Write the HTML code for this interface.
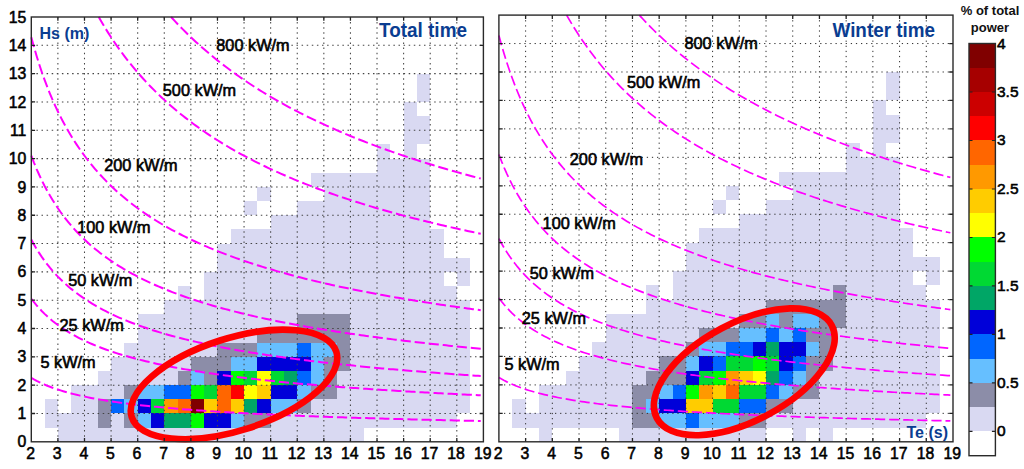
<!DOCTYPE html>
<html><head><meta charset="utf-8"><title>Wave power scatter diagrams</title>
<style>
html,body{margin:0;padding:0;background:#fff;}
body{width:1024px;height:469px;overflow:hidden;font-family:"Liberation Sans",sans-serif;}
svg{display:block;font-family:"Liberation Sans",sans-serif;}
.tk text{font-size:15.8px;fill:#000;stroke:#000;stroke-width:0.55px;}
.cbl text{font-size:15.5px;}
.lb text{font-size:16.3px;fill:#000;stroke:#000;stroke-width:0.6px;}
.bl{font-weight:bold;fill:#0a3d91;}
.ttl text{font-size:13px;font-weight:bold;fill:#111;}
</style></head><body>
<svg width="1024" height="469" viewBox="0 0 1024 469">
<rect width="1024" height="469" fill="#fff"/>
<g shape-rendering="crispEdges">
<rect x="57.89" y="427.64" width="305.83" height="14.16" fill="#d9d9f2"/>
<rect x="44.6" y="413.48" width="53.19" height="14.16" fill="#d9d9f2"/>
<rect x="97.79" y="413.48" width="13.3" height="14.16" fill="#8c8da8"/>
<rect x="111.08" y="413.48" width="13.3" height="14.16" fill="#d9d9f2"/>
<rect x="124.38" y="413.48" width="13.3" height="14.16" fill="#8c8da8"/>
<rect x="137.68" y="413.48" width="13.3" height="14.16" fill="#66bfff"/>
<rect x="150.97" y="413.48" width="13.3" height="14.16" fill="#0000d9"/>
<rect x="164.27" y="413.48" width="26.59" height="14.16" fill="#00a666"/>
<rect x="190.86" y="413.48" width="13.3" height="14.16" fill="#00ff00"/>
<rect x="204.16" y="413.48" width="26.59" height="14.16" fill="#0000d9"/>
<rect x="230.76" y="413.48" width="13.3" height="14.16" fill="#66bfff"/>
<rect x="244.05" y="413.48" width="26.59" height="14.16" fill="#8c8da8"/>
<rect x="270.65" y="413.48" width="186.16" height="14.16" fill="#d9d9f2"/>
<rect x="44.6" y="399.32" width="13.3" height="14.16" fill="#d9d9f2"/>
<rect x="71.19" y="399.32" width="26.59" height="14.16" fill="#d9d9f2"/>
<rect x="97.79" y="399.32" width="13.3" height="14.16" fill="#8c8da8"/>
<rect x="111.08" y="399.32" width="13.3" height="14.16" fill="#0066ff"/>
<rect x="124.38" y="399.32" width="13.3" height="14.16" fill="#66bfff"/>
<rect x="137.68" y="399.32" width="13.3" height="14.16" fill="#0000d9"/>
<rect x="150.97" y="399.32" width="13.3" height="14.16" fill="#00d933"/>
<rect x="164.27" y="399.32" width="13.3" height="14.16" fill="#ff9900"/>
<rect x="177.57" y="399.32" width="13.3" height="14.16" fill="#ff6600"/>
<rect x="190.86" y="399.32" width="13.3" height="14.16" fill="#800000"/>
<rect x="204.16" y="399.32" width="13.3" height="14.16" fill="#ffcc00"/>
<rect x="217.46" y="399.32" width="13.3" height="14.16" fill="#ff6600"/>
<rect x="230.76" y="399.32" width="13.3" height="14.16" fill="#ffcc00"/>
<rect x="244.05" y="399.32" width="13.3" height="14.16" fill="#00a666"/>
<rect x="257.35" y="399.32" width="13.3" height="14.16" fill="#0000d9"/>
<rect x="270.65" y="399.32" width="26.59" height="14.16" fill="#66bfff"/>
<rect x="297.24" y="399.32" width="13.3" height="14.16" fill="#8c8da8"/>
<rect x="310.54" y="399.32" width="159.56" height="14.16" fill="#d9d9f2"/>
<rect x="71.19" y="385.16" width="53.19" height="14.16" fill="#d9d9f2"/>
<rect x="124.38" y="385.16" width="13.3" height="14.16" fill="#8c8da8"/>
<rect x="137.68" y="385.16" width="26.59" height="14.16" fill="#66bfff"/>
<rect x="164.27" y="385.16" width="26.59" height="14.16" fill="#0066ff"/>
<rect x="190.86" y="385.16" width="13.3" height="14.16" fill="#00ff00"/>
<rect x="204.16" y="385.16" width="13.3" height="14.16" fill="#00d933"/>
<rect x="217.46" y="385.16" width="13.3" height="14.16" fill="#ff6600"/>
<rect x="230.76" y="385.16" width="13.3" height="14.16" fill="#ff0000"/>
<rect x="244.05" y="385.16" width="13.3" height="14.16" fill="#ffff00"/>
<rect x="257.35" y="385.16" width="13.3" height="14.16" fill="#ffcc00"/>
<rect x="270.65" y="385.16" width="26.59" height="14.16" fill="#0000d9"/>
<rect x="297.24" y="385.16" width="13.3" height="14.16" fill="#66bfff"/>
<rect x="310.54" y="385.16" width="26.59" height="14.16" fill="#8c8da8"/>
<rect x="337.13" y="385.16" width="132.97" height="14.16" fill="#d9d9f2"/>
<rect x="97.79" y="371" width="79.78" height="14.16" fill="#d9d9f2"/>
<rect x="177.57" y="371" width="13.3" height="14.16" fill="#8c8da8"/>
<rect x="190.86" y="371" width="13.3" height="14.16" fill="#66bfff"/>
<rect x="204.16" y="371" width="13.3" height="14.16" fill="#8c8da8"/>
<rect x="217.46" y="371" width="13.3" height="14.16" fill="#0000d9"/>
<rect x="230.76" y="371" width="13.3" height="14.16" fill="#00ff00"/>
<rect x="244.05" y="371" width="13.3" height="14.16" fill="#00d933"/>
<rect x="257.35" y="371" width="13.3" height="14.16" fill="#ffff00"/>
<rect x="270.65" y="371" width="13.3" height="14.16" fill="#00d933"/>
<rect x="283.94" y="371" width="13.3" height="14.16" fill="#00a666"/>
<rect x="297.24" y="371" width="13.3" height="14.16" fill="#0066ff"/>
<rect x="310.54" y="371" width="13.3" height="14.16" fill="#66bfff"/>
<rect x="323.84" y="371" width="13.3" height="14.16" fill="#8c8da8"/>
<rect x="337.13" y="371" width="132.97" height="14.16" fill="#d9d9f2"/>
<rect x="111.08" y="356.84" width="79.78" height="14.16" fill="#d9d9f2"/>
<rect x="190.86" y="356.84" width="39.89" height="14.16" fill="#8c8da8"/>
<rect x="230.76" y="356.84" width="26.59" height="14.16" fill="#66bfff"/>
<rect x="257.35" y="356.84" width="53.19" height="14.16" fill="#0000d9"/>
<rect x="310.54" y="356.84" width="13.3" height="14.16" fill="#66bfff"/>
<rect x="323.84" y="356.84" width="26.59" height="14.16" fill="#8c8da8"/>
<rect x="350.43" y="356.84" width="119.67" height="14.16" fill="#d9d9f2"/>
<rect x="124.38" y="342.68" width="93.08" height="14.16" fill="#d9d9f2"/>
<rect x="217.46" y="342.68" width="39.89" height="14.16" fill="#8c8da8"/>
<rect x="257.35" y="342.68" width="39.89" height="14.16" fill="#66bfff"/>
<rect x="297.24" y="342.68" width="13.3" height="14.16" fill="#0066ff"/>
<rect x="310.54" y="342.68" width="26.59" height="14.16" fill="#66bfff"/>
<rect x="337.13" y="342.68" width="13.3" height="14.16" fill="#8c8da8"/>
<rect x="350.43" y="342.68" width="119.67" height="14.16" fill="#d9d9f2"/>
<rect x="137.68" y="328.52" width="119.67" height="14.16" fill="#d9d9f2"/>
<rect x="257.35" y="328.52" width="93.08" height="14.16" fill="#8c8da8"/>
<rect x="350.43" y="328.52" width="119.67" height="14.16" fill="#d9d9f2"/>
<rect x="137.68" y="314.36" width="159.56" height="14.16" fill="#d9d9f2"/>
<rect x="297.24" y="314.36" width="53.19" height="14.16" fill="#8c8da8"/>
<rect x="350.43" y="314.36" width="119.67" height="14.16" fill="#d9d9f2"/>
<rect x="164.27" y="300.2" width="305.83" height="14.16" fill="#d9d9f2"/>
<rect x="177.57" y="286.04" width="13.3" height="14.16" fill="#d9d9f2"/>
<rect x="204.16" y="286.04" width="252.64" height="14.16" fill="#d9d9f2"/>
<rect x="204.16" y="271.88" width="239.35" height="14.16" fill="#d9d9f2"/>
<rect x="456.81" y="271.88" width="13.3" height="14.16" fill="#d9d9f2"/>
<rect x="217.46" y="257.72" width="252.64" height="14.16" fill="#d9d9f2"/>
<rect x="217.46" y="243.56" width="226.05" height="14.16" fill="#d9d9f2"/>
<rect x="230.76" y="229.4" width="212.75" height="14.16" fill="#d9d9f2"/>
<rect x="270.65" y="215.24" width="159.56" height="14.16" fill="#d9d9f2"/>
<rect x="244.05" y="201.08" width="13.3" height="14.16" fill="#d9d9f2"/>
<rect x="297.24" y="201.08" width="132.97" height="14.16" fill="#d9d9f2"/>
<rect x="257.35" y="186.92" width="13.3" height="14.16" fill="#d9d9f2"/>
<rect x="323.84" y="186.92" width="106.38" height="14.16" fill="#d9d9f2"/>
<rect x="310.54" y="172.76" width="119.67" height="14.16" fill="#d9d9f2"/>
<rect x="377.02" y="158.6" width="53.19" height="14.16" fill="#d9d9f2"/>
<rect x="377.02" y="144.44" width="13.3" height="14.16" fill="#d9d9f2"/>
<rect x="403.62" y="144.44" width="13.3" height="14.16" fill="#d9d9f2"/>
<rect x="403.62" y="130.28" width="26.59" height="14.16" fill="#d9d9f2"/>
<rect x="403.62" y="116.12" width="26.59" height="14.16" fill="#d9d9f2"/>
<rect x="403.62" y="101.96" width="13.3" height="14.16" fill="#d9d9f2"/>
<rect x="416.91" y="87.8" width="13.3" height="14.16" fill="#d9d9f2"/>
<rect x="416.91" y="73.64" width="13.3" height="14.16" fill="#d9d9f2"/>
</g>
<path d="M57.89 17V441.8M84.49 17V441.8M111.08 17V441.8M137.68 17V441.8M164.27 17V441.8M190.86 17V441.8M217.46 17V441.8M244.05 17V441.8M270.65 17V441.8M297.24 17V441.8M323.84 17V441.8M350.43 17V441.8M377.02 17V441.8M403.62 17V441.8M430.21 17V441.8M456.81 17V441.8M31.3 413.48H483.4M31.3 385.16H483.4M31.3 356.84H483.4M31.3 328.52H483.4M31.3 300.2H483.4M31.3 271.88H483.4M31.3 243.56H483.4M31.3 215.24H483.4M31.3 186.92H483.4M31.3 158.6H483.4M31.3 130.28H483.4M31.3 101.96H483.4M31.3 73.64H483.4M31.3 45.32H483.4" stroke="#444" stroke-width="1.05" stroke-dasharray="1.5 3.6" fill="none"/>
<path d="M31.3 377.83 L33.96 379.37 L36.62 380.81 L39.28 382.15 L41.94 383.41 L44.6 384.58 L47.26 385.7 L49.92 386.74 L52.58 387.74 L55.23 388.68 L57.89 389.57 L60.55 390.42 L63.21 391.23 L65.87 392 L68.53 392.74 L71.19 393.44 L73.85 394.12 L76.51 394.77 L79.17 395.39 L81.83 395.99 L84.49 396.57 L87.15 397.12 L89.81 397.66 L92.47 398.17 L95.13 398.67 L97.79 399.15 L100.44 399.62 L103.1 400.07 L105.76 400.51 L108.42 400.93 L111.08 401.34 L113.74 401.74 L116.4 402.13 L119.06 402.5 L121.72 402.87 L124.38 403.23 L127.04 403.57 L129.7 403.91 L132.36 404.24 L135.02 404.56 L137.68 404.87 L140.34 405.17 L143 405.47 L145.65 405.76 L148.31 406.04 L150.97 406.32 L153.63 406.59 L156.29 406.85 L158.95 407.11 L161.61 407.36 L164.27 407.61 L166.93 407.85 L169.59 408.09 L172.25 408.32 L174.91 408.54 L177.57 408.77 L180.23 408.98 L182.89 409.2 L185.55 409.41 L188.21 409.61 L190.86 409.82 L193.52 410.01 L196.18 410.21 L198.84 410.4 L201.5 410.59 L204.16 410.77 L206.82 410.95 L209.48 411.13 L212.14 411.3 L214.8 411.48 L217.46 411.65 L220.12 411.81 L222.78 411.97 L225.44 412.14 L228.1 412.29 L230.76 412.45 L233.42 412.6 L236.07 412.75 L238.73 412.9 L241.39 413.05 L244.05 413.19 L246.71 413.33 L249.37 413.47 L252.03 413.61 L254.69 413.75 L257.35 413.88 L260.01 414.01 L262.67 414.14 L265.33 414.27 L267.99 414.4 L270.65 414.52 L273.31 414.65 L275.97 414.77 L278.63 414.89 L281.28 415.01 L283.94 415.12 L286.6 415.24 L289.26 415.35 L291.92 415.46 L294.58 415.58 L297.24 415.69 L299.9 415.79 L302.56 415.9 L305.22 416.01 L307.88 416.11 L310.54 416.21 L313.2 416.31 L315.86 416.41 L318.52 416.51 L321.18 416.61 L323.84 416.71 L326.49 416.81 L329.15 416.9 L331.81 416.99 L334.47 417.09 L337.13 417.18 L339.79 417.27 L342.45 417.36 L345.11 417.45 L347.77 417.54 L350.43 417.62 L353.09 417.71 L355.75 417.79 L358.41 417.88 L361.07 417.96 L363.73 418.04 L366.39 418.12 L369.05 418.2 L371.7 418.28 L374.36 418.36 L377.02 418.44 L379.68 418.52 L382.34 418.6 L385 418.67 L387.66 418.75 L390.32 418.82 L392.98 418.9 L395.64 418.97 L398.3 419.04 L400.96 419.11 L403.62 419.18 L406.28 419.25 L408.94 419.32 L411.6 419.39 L414.26 419.46 L416.91 419.53 L419.57 419.6 L422.23 419.66 L424.89 419.73 L427.55 419.79 L430.21 419.86 L432.87 419.92 L435.53 419.99 L438.19 420.05 L440.85 420.11 L443.51 420.17 L446.17 420.24 L448.83 420.3 L451.49 420.36 L454.15 420.42 L456.81 420.48 L459.47 420.54 L462.12 420.59 L464.78 420.65 L467.44 420.71 L470.1 420.77 L472.76 420.82 L475.42 420.88 L478.08 420.94 L480.74 420.99" stroke="#ff00ff" stroke-width="2.0" stroke-dasharray="10.2 3.9" fill="none"/>
<path d="M31.3 298.76 L33.96 302.21 L36.62 305.42 L39.28 308.42 L41.94 311.23 L44.6 313.86 L47.26 316.35 L49.92 318.69 L52.58 320.91 L55.23 323.01 L57.89 325.01 L60.55 326.91 L63.21 328.72 L65.87 330.45 L68.53 332.1 L71.19 333.67 L73.85 335.19 L76.51 336.64 L79.17 338.03 L81.83 339.37 L84.49 340.66 L87.15 341.9 L89.81 343.09 L92.47 344.25 L95.13 345.36 L97.79 346.44 L100.44 347.48 L103.1 348.49 L105.76 349.47 L108.42 350.42 L111.08 351.34 L113.74 352.23 L116.4 353.09 L119.06 353.93 L121.72 354.75 L124.38 355.55 L127.04 356.32 L129.7 357.07 L132.36 357.81 L135.02 358.52 L137.68 359.22 L140.34 359.9 L143 360.56 L145.65 361.21 L148.31 361.84 L150.97 362.46 L153.63 363.06 L156.29 363.65 L158.95 364.23 L161.61 364.79 L164.27 365.34 L166.93 365.88 L169.59 366.41 L172.25 366.93 L174.91 367.44 L177.57 367.94 L180.23 368.42 L182.89 368.9 L185.55 369.37 L188.21 369.83 L190.86 370.28 L193.52 370.72 L196.18 371.16 L198.84 371.59 L201.5 372 L204.16 372.42 L206.82 372.82 L209.48 373.22 L212.14 373.61 L214.8 373.99 L217.46 374.37 L220.12 374.74 L222.78 375.11 L225.44 375.47 L228.1 375.82 L230.76 376.17 L233.42 376.51 L236.07 376.85 L238.73 377.18 L241.39 377.51 L244.05 377.83 L246.71 378.15 L249.37 378.46 L252.03 378.77 L254.69 379.07 L257.35 379.37 L260.01 379.67 L262.67 379.96 L265.33 380.25 L267.99 380.53 L270.65 380.81 L273.31 381.08 L275.97 381.36 L278.63 381.62 L281.28 381.89 L283.94 382.15 L286.6 382.41 L289.26 382.66 L291.92 382.91 L294.58 383.16 L297.24 383.41 L299.9 383.65 L302.56 383.89 L305.22 384.12 L307.88 384.35 L310.54 384.58 L313.2 384.81 L315.86 385.04 L318.52 385.26 L321.18 385.48 L323.84 385.7 L326.49 385.91 L329.15 386.12 L331.81 386.33 L334.47 386.54 L337.13 386.74 L339.79 386.95 L342.45 387.15 L345.11 387.35 L347.77 387.54 L350.43 387.74 L353.09 387.93 L355.75 388.12 L358.41 388.31 L361.07 388.49 L363.73 388.68 L366.39 388.86 L369.05 389.04 L371.7 389.22 L374.36 389.4 L377.02 389.57 L379.68 389.74 L382.34 389.91 L385 390.08 L387.66 390.25 L390.32 390.42 L392.98 390.58 L395.64 390.75 L398.3 390.91 L400.96 391.07 L403.62 391.23 L406.28 391.39 L408.94 391.54 L411.6 391.7 L414.26 391.85 L416.91 392 L419.57 392.15 L422.23 392.3 L424.89 392.45 L427.55 392.59 L430.21 392.74 L432.87 392.88 L435.53 393.02 L438.19 393.17 L440.85 393.31 L443.51 393.44 L446.17 393.58 L448.83 393.72 L451.49 393.85 L454.15 393.99 L456.81 394.12 L459.47 394.25 L462.12 394.38 L464.78 394.51 L467.44 394.64 L470.1 394.77 L472.76 394.9 L475.42 395.02 L478.08 395.15 L480.74 395.27" stroke="#ff00ff" stroke-width="2.0" stroke-dasharray="10.2 3.9" fill="none"/>
<path d="M31.3 239.51 L33.96 244.39 L36.62 248.93 L39.28 253.17 L41.94 257.14 L44.6 260.87 L47.26 264.38 L49.92 267.7 L52.58 270.84 L55.23 273.81 L57.89 276.63 L60.55 279.32 L63.21 281.88 L65.87 284.32 L68.53 286.65 L71.19 288.89 L73.85 291.03 L76.51 293.08 L79.17 295.05 L81.83 296.94 L84.49 298.76 L87.15 300.52 L89.81 302.21 L92.47 303.84 L95.13 305.42 L97.79 306.94 L100.44 308.42 L103.1 309.84 L105.76 311.23 L108.42 312.56 L111.08 313.86 L113.74 315.12 L116.4 316.35 L119.06 317.54 L121.72 318.69 L124.38 319.82 L127.04 320.91 L129.7 321.98 L132.36 323.01 L135.02 324.02 L137.68 325.01 L140.34 325.97 L143 326.91 L145.65 327.82 L148.31 328.72 L150.97 329.59 L153.63 330.45 L156.29 331.28 L158.95 332.1 L161.61 332.89 L164.27 333.67 L166.93 334.44 L169.59 335.19 L172.25 335.92 L174.91 336.64 L177.57 337.34 L180.23 338.03 L182.89 338.71 L185.55 339.37 L188.21 340.02 L190.86 340.66 L193.52 341.28 L196.18 341.9 L198.84 342.5 L201.5 343.09 L204.16 343.68 L206.82 344.25 L209.48 344.81 L212.14 345.36 L214.8 345.91 L217.46 346.44 L220.12 346.97 L222.78 347.48 L225.44 347.99 L228.1 348.49 L230.76 348.98 L233.42 349.47 L236.07 349.95 L238.73 350.42 L241.39 350.88 L244.05 351.34 L246.71 351.78 L249.37 352.23 L252.03 352.66 L254.69 353.09 L257.35 353.52 L260.01 353.93 L262.67 354.34 L265.33 354.75 L267.99 355.15 L270.65 355.55 L273.31 355.93 L275.97 356.32 L278.63 356.7 L281.28 357.07 L283.94 357.44 L286.6 357.81 L289.26 358.17 L291.92 358.52 L294.58 358.87 L297.24 359.22 L299.9 359.56 L302.56 359.9 L305.22 360.23 L307.88 360.56 L310.54 360.89 L313.2 361.21 L315.86 361.53 L318.52 361.84 L321.18 362.15 L323.84 362.46 L326.49 362.76 L329.15 363.06 L331.81 363.36 L334.47 363.65 L337.13 363.94 L339.79 364.23 L342.45 364.51 L345.11 364.79 L347.77 365.07 L350.43 365.34 L353.09 365.61 L355.75 365.88 L358.41 366.15 L361.07 366.41 L363.73 366.67 L366.39 366.93 L369.05 367.19 L371.7 367.44 L374.36 367.69 L377.02 367.94 L379.68 368.18 L382.34 368.42 L385 368.66 L387.66 368.9 L390.32 369.14 L392.98 369.37 L395.64 369.6 L398.3 369.83 L400.96 370.06 L403.62 370.28 L406.28 370.5 L408.94 370.72 L411.6 370.94 L414.26 371.16 L416.91 371.37 L419.57 371.59 L422.23 371.8 L424.89 372 L427.55 372.21 L430.21 372.42 L432.87 372.62 L435.53 372.82 L438.19 373.02 L440.85 373.22 L443.51 373.41 L446.17 373.61 L448.83 373.8 L451.49 373.99 L454.15 374.18 L456.81 374.37 L459.47 374.56 L462.12 374.74 L464.78 374.93 L467.44 375.11 L470.1 375.29 L472.76 375.47 L475.42 375.65 L478.08 375.82 L480.74 376" stroke="#ff00ff" stroke-width="2.0" stroke-dasharray="10.2 3.9" fill="none"/>
<path d="M31.3 155.72 L33.96 162.62 L36.62 169.04 L39.28 175.03 L41.94 180.65 L44.6 185.93 L47.26 190.9 L49.92 195.59 L52.58 200.02 L55.23 204.23 L57.89 208.22 L60.55 212.02 L63.21 215.64 L65.87 219.09 L68.53 222.39 L71.19 225.55 L73.85 228.57 L76.51 231.47 L79.17 234.26 L81.83 236.94 L84.49 239.51 L87.15 242 L89.81 244.39 L92.47 246.7 L95.13 248.93 L97.79 251.08 L100.44 253.17 L103.1 255.19 L105.76 257.14 L108.42 259.03 L111.08 260.87 L113.74 262.65 L116.4 264.38 L119.06 266.07 L121.72 267.7 L124.38 269.29 L127.04 270.84 L129.7 272.34 L132.36 273.81 L135.02 275.24 L137.68 276.63 L140.34 277.99 L143 279.32 L145.65 280.61 L148.31 281.88 L150.97 283.11 L153.63 284.32 L156.29 285.5 L158.95 286.65 L161.61 287.78 L164.27 288.89 L166.93 289.97 L169.59 291.03 L172.25 292.06 L174.91 293.08 L177.57 294.07 L180.23 295.05 L182.89 296 L185.55 296.94 L188.21 297.86 L190.86 298.76 L193.52 299.65 L196.18 300.52 L198.84 301.37 L201.5 302.21 L204.16 303.03 L206.82 303.84 L209.48 304.64 L212.14 305.42 L214.8 306.19 L217.46 306.94 L220.12 307.69 L222.78 308.42 L225.44 309.14 L228.1 309.84 L230.76 310.54 L233.42 311.23 L236.07 311.9 L238.73 312.56 L241.39 313.22 L244.05 313.86 L246.71 314.5 L249.37 315.12 L252.03 315.74 L254.69 316.35 L257.35 316.95 L260.01 317.54 L262.67 318.12 L265.33 318.69 L267.99 319.26 L270.65 319.82 L273.31 320.37 L275.97 320.91 L278.63 321.45 L281.28 321.98 L283.94 322.5 L286.6 323.01 L289.26 323.52 L291.92 324.02 L294.58 324.52 L297.24 325.01 L299.9 325.49 L302.56 325.97 L305.22 326.44 L307.88 326.91 L310.54 327.37 L313.2 327.82 L315.86 328.27 L318.52 328.72 L321.18 329.16 L323.84 329.59 L326.49 330.02 L329.15 330.45 L331.81 330.86 L334.47 331.28 L337.13 331.69 L339.79 332.1 L342.45 332.5 L345.11 332.89 L347.77 333.29 L350.43 333.67 L353.09 334.06 L355.75 334.44 L358.41 334.81 L361.07 335.19 L363.73 335.55 L366.39 335.92 L369.05 336.28 L371.7 336.64 L374.36 336.99 L377.02 337.34 L379.68 337.69 L382.34 338.03 L385 338.37 L387.66 338.71 L390.32 339.04 L392.98 339.37 L395.64 339.7 L398.3 340.02 L400.96 340.34 L403.62 340.66 L406.28 340.97 L408.94 341.28 L411.6 341.59 L414.26 341.9 L416.91 342.2 L419.57 342.5 L422.23 342.8 L424.89 343.09 L427.55 343.39 L430.21 343.68 L432.87 343.96 L435.53 344.25 L438.19 344.53 L440.85 344.81 L443.51 345.09 L446.17 345.36 L448.83 345.64 L451.49 345.91 L454.15 346.18 L456.81 346.44 L459.47 346.71 L462.12 346.97 L464.78 347.23 L467.44 347.48 L470.1 347.74 L472.76 347.99 L475.42 348.24 L478.08 348.49 L480.74 348.74" stroke="#ff00ff" stroke-width="2.0" stroke-dasharray="10.2 3.9" fill="none"/>
<path d="M31.3 37.23 L33.96 46.98 L36.62 56.06 L39.28 64.54 L41.94 72.48 L44.6 79.94 L47.26 86.97 L49.92 93.6 L52.58 99.87 L55.23 105.82 L57.89 111.47 L60.55 116.84 L63.21 121.96 L65.87 126.84 L68.53 131.51 L71.19 135.97 L73.85 140.25 L76.51 144.35 L79.17 148.29 L81.83 152.08 L84.49 155.72 L87.15 159.24 L89.81 162.62 L92.47 165.88 L95.13 169.04 L97.79 172.09 L100.44 175.03 L103.1 177.89 L105.76 180.65 L108.42 183.33 L111.08 185.93 L113.74 188.45 L116.4 190.9 L119.06 193.27 L121.72 195.59 L124.38 197.83 L127.04 200.02 L129.7 202.15 L132.36 204.23 L135.02 206.25 L137.68 208.22 L140.34 210.14 L143 212.02 L145.65 213.85 L148.31 215.64 L150.97 217.38 L153.63 219.09 L156.29 220.76 L158.95 222.39 L161.61 223.99 L164.27 225.55 L166.93 227.08 L169.59 228.57 L172.25 230.04 L174.91 231.47 L177.57 232.88 L180.23 234.26 L182.89 235.61 L185.55 236.94 L188.21 238.24 L190.86 239.51 L193.52 240.77 L196.18 242 L198.84 243.2 L201.5 244.39 L204.16 245.55 L206.82 246.7 L209.48 247.82 L212.14 248.93 L214.8 250.01 L217.46 251.08 L220.12 252.13 L222.78 253.17 L225.44 254.18 L228.1 255.19 L230.76 256.17 L233.42 257.14 L236.07 258.09 L238.73 259.03 L241.39 259.96 L244.05 260.87 L246.71 261.77 L249.37 262.65 L252.03 263.52 L254.69 264.38 L257.35 265.23 L260.01 266.07 L262.67 266.89 L265.33 267.7 L267.99 268.5 L270.65 269.29 L273.31 270.07 L275.97 270.84 L278.63 271.6 L281.28 272.34 L283.94 273.08 L286.6 273.81 L289.26 274.53 L291.92 275.24 L294.58 275.94 L297.24 276.63 L299.9 277.32 L302.56 277.99 L305.22 278.66 L307.88 279.32 L310.54 279.97 L313.2 280.61 L315.86 281.25 L318.52 281.88 L321.18 282.5 L323.84 283.11 L326.49 283.72 L329.15 284.32 L331.81 284.91 L334.47 285.5 L337.13 286.08 L339.79 286.65 L342.45 287.22 L345.11 287.78 L347.77 288.34 L350.43 288.89 L353.09 289.43 L355.75 289.97 L358.41 290.5 L361.07 291.03 L363.73 291.55 L366.39 292.06 L369.05 292.57 L371.7 293.08 L374.36 293.58 L377.02 294.07 L379.68 294.56 L382.34 295.05 L385 295.53 L387.66 296 L390.32 296.47 L392.98 296.94 L395.64 297.4 L398.3 297.86 L400.96 298.31 L403.62 298.76 L406.28 299.21 L408.94 299.65 L411.6 300.08 L414.26 300.52 L416.91 300.95 L419.57 301.37 L422.23 301.79 L424.89 302.21 L427.55 302.62 L430.21 303.03 L432.87 303.44 L435.53 303.84 L438.19 304.24 L440.85 304.64 L443.51 305.03 L446.17 305.42 L448.83 305.8 L451.49 306.19 L454.15 306.57 L456.81 306.94 L459.47 307.32 L462.12 307.69 L464.78 308.05 L467.44 308.42 L470.1 308.78 L472.76 309.14 L475.42 309.49 L478.08 309.84 L480.74 310.19" stroke="#ff00ff" stroke-width="2.0" stroke-dasharray="10.2 3.9" fill="none"/>
<path d="M98.72 17 L100.44 20.01 L103.1 24.52 L105.76 28.89 L108.42 33.12 L111.08 37.23 L113.74 41.21 L116.4 45.09 L119.06 48.85 L121.72 52.5 L124.38 56.06 L127.04 59.52 L129.7 62.88 L132.36 66.16 L135.02 69.36 L137.68 72.48 L140.34 75.52 L143 78.48 L145.65 81.38 L148.31 84.21 L150.97 86.97 L153.63 89.67 L156.29 92.3 L158.95 94.88 L161.61 97.41 L164.27 99.87 L166.93 102.29 L169.59 104.66 L172.25 106.97 L174.91 109.24 L177.57 111.47 L180.23 113.65 L182.89 115.79 L185.55 117.88 L188.21 119.94 L190.86 121.96 L193.52 123.94 L196.18 125.88 L198.84 127.79 L201.5 129.67 L204.16 131.51 L206.82 133.32 L209.48 135.1 L212.14 136.84 L214.8 138.56 L217.46 140.25 L220.12 141.91 L222.78 143.55 L225.44 145.15 L228.1 146.74 L230.76 148.29 L233.42 149.83 L236.07 151.33 L238.73 152.82 L241.39 154.28 L244.05 155.72 L246.71 157.14 L249.37 158.54 L252.03 159.92 L254.69 161.28 L257.35 162.62 L260.01 163.94 L262.67 165.24 L265.33 166.52 L267.99 167.79 L270.65 169.04 L273.31 170.27 L275.97 171.48 L278.63 172.68 L281.28 173.87 L283.94 175.03 L286.6 176.19 L289.26 177.32 L291.92 178.45 L294.58 179.56 L297.24 180.65 L299.9 181.73 L302.56 182.8 L305.22 183.85 L307.88 184.9 L310.54 185.93 L313.2 186.94 L315.86 187.95 L318.52 188.94 L321.18 189.92 L323.84 190.9 L326.49 191.85 L329.15 192.8 L331.81 193.74 L334.47 194.67 L337.13 195.59 L339.79 196.49 L342.45 197.39 L345.11 198.28 L347.77 199.15 L350.43 200.02 L353.09 200.88 L355.75 201.73 L358.41 202.57 L361.07 203.4 L363.73 204.23 L366.39 205.04 L369.05 205.85 L371.7 206.65 L374.36 207.44 L377.02 208.22 L379.68 209 L382.34 209.76 L385 210.52 L387.66 211.27 L390.32 212.02 L392.98 212.76 L395.64 213.49 L398.3 214.21 L400.96 214.93 L403.62 215.64 L406.28 216.34 L408.94 217.04 L411.6 217.73 L414.26 218.41 L416.91 219.09 L419.57 219.76 L422.23 220.43 L424.89 221.09 L427.55 221.74 L430.21 222.39 L432.87 223.03 L435.53 223.67 L438.19 224.3 L440.85 224.93 L443.51 225.55 L446.17 226.16 L448.83 226.77 L451.49 227.38 L454.15 227.98 L456.81 228.57 L459.47 229.16 L462.12 229.75 L464.78 230.33 L467.44 230.9 L470.1 231.47 L472.76 232.04 L475.42 232.6 L478.08 233.16 L480.74 233.71" stroke="#ff00ff" stroke-width="2.0" stroke-dasharray="10.2 3.9" fill="none"/>
<path d="M171.08 17 L172.25 18.28 L174.91 21.15 L177.57 23.96 L180.23 26.72 L182.89 29.42 L185.55 32.07 L188.21 34.68 L190.86 37.23 L193.52 39.73 L196.18 42.19 L198.84 44.61 L201.5 46.98 L204.16 49.31 L206.82 51.6 L209.48 53.85 L212.14 56.06 L214.8 58.23 L217.46 60.37 L220.12 62.47 L222.78 64.54 L225.44 66.57 L228.1 68.57 L230.76 70.54 L233.42 72.48 L236.07 74.39 L238.73 76.27 L241.39 78.12 L244.05 79.94 L246.71 81.74 L249.37 83.51 L252.03 85.25 L254.69 86.97 L257.35 88.66 L260.01 90.33 L262.67 91.98 L265.33 93.6 L267.99 95.2 L270.65 96.78 L273.31 98.34 L275.97 99.87 L278.63 101.39 L281.28 102.89 L283.94 104.36 L286.6 105.82 L289.26 107.26 L291.92 108.68 L294.58 110.08 L297.24 111.47 L299.9 112.84 L302.56 114.19 L305.22 115.52 L307.88 116.84 L310.54 118.14 L313.2 119.43 L315.86 120.7 L318.52 121.96 L321.18 123.2 L323.84 124.43 L326.49 125.64 L329.15 126.84 L331.81 128.03 L334.47 129.2 L337.13 130.36 L339.79 131.51 L342.45 132.64 L345.11 133.76 L347.77 134.87 L350.43 135.97 L353.09 137.06 L355.75 138.13 L358.41 139.2 L361.07 140.25 L363.73 141.29 L366.39 142.32 L369.05 143.34 L371.7 144.35 L374.36 145.35 L377.02 146.34 L379.68 147.32 L382.34 148.29 L385 149.25 L387.66 150.21 L390.32 151.15 L392.98 152.08 L395.64 153 L398.3 153.92 L400.96 154.83 L403.62 155.72 L406.28 156.61 L408.94 157.5 L411.6 158.37 L414.26 159.24 L416.91 160.09 L419.57 160.94 L422.23 161.78 L424.89 162.62 L427.55 163.45 L430.21 164.27 L432.87 165.08 L435.53 165.88 L438.19 166.68 L440.85 167.47 L443.51 168.26 L446.17 169.04 L448.83 169.81 L451.49 170.57 L454.15 171.33 L456.81 172.09 L459.47 172.83 L462.12 173.57 L464.78 174.31 L467.44 175.03 L470.1 175.76 L472.76 176.47 L475.42 177.18 L478.08 177.89 L480.74 178.59" stroke="#ff00ff" stroke-width="2.0" stroke-dasharray="10.2 3.9" fill="none"/>
<ellipse cx="234" cy="384.4" rx="107.4" ry="46.1" transform="rotate(-17.7 234 384.4)" fill="none" stroke="#ff0000" stroke-width="6.6"/>
<path d="M57.89 441.8v-3.8M57.89 17v3.8M84.49 441.8v-3.8M84.49 17v3.8M111.08 441.8v-3.8M111.08 17v3.8M137.68 441.8v-3.8M137.68 17v3.8M164.27 441.8v-3.8M164.27 17v3.8M190.86 441.8v-3.8M190.86 17v3.8M217.46 441.8v-3.8M217.46 17v3.8M244.05 441.8v-3.8M244.05 17v3.8M270.65 441.8v-3.8M270.65 17v3.8M297.24 441.8v-3.8M297.24 17v3.8M323.84 441.8v-3.8M323.84 17v3.8M350.43 441.8v-3.8M350.43 17v3.8M377.02 441.8v-3.8M377.02 17v3.8M403.62 441.8v-3.8M403.62 17v3.8M430.21 441.8v-3.8M430.21 17v3.8M456.81 441.8v-3.8M456.81 17v3.8M31.3 413.48h3.8M483.4 413.48h-3.8M31.3 385.16h3.8M483.4 385.16h-3.8M31.3 356.84h3.8M483.4 356.84h-3.8M31.3 328.52h3.8M483.4 328.52h-3.8M31.3 300.2h3.8M483.4 300.2h-3.8M31.3 271.88h3.8M483.4 271.88h-3.8M31.3 243.56h3.8M483.4 243.56h-3.8M31.3 215.24h3.8M483.4 215.24h-3.8M31.3 186.92h3.8M483.4 186.92h-3.8M31.3 158.6h3.8M483.4 158.6h-3.8M31.3 130.28h3.8M483.4 130.28h-3.8M31.3 101.96h3.8M483.4 101.96h-3.8M31.3 73.64h3.8M483.4 73.64h-3.8M31.3 45.32h3.8M483.4 45.32h-3.8" stroke="#222" stroke-width="1.3" fill="none"/>
<rect x="31.3" y="17" width="452.1" height="424.8" fill="none" stroke="#2a2a2a" stroke-width="1.4"/>
<g class="tk" text-anchor="middle">
<text x="30.6" y="459">2</text>
<text x="57.19" y="459">3</text>
<text x="83.79" y="459">4</text>
<text x="110.38" y="459">5</text>
<text x="136.98" y="459">6</text>
<text x="163.57" y="459">7</text>
<text x="190.16" y="459">8</text>
<text x="216.76" y="459">9</text>
<text x="243.35" y="459">10</text>
<text x="269.95" y="459">11</text>
<text x="296.54" y="459">12</text>
<text x="323.14" y="459">13</text>
<text x="349.73" y="459">14</text>
<text x="376.32" y="459">15</text>
<text x="402.92" y="459">16</text>
<text x="429.51" y="459">17</text>
<text x="456.11" y="459">18</text>
<text x="482.7" y="459">19</text>
</g>
<g class="tk" text-anchor="end">
<text x="26.4" y="447.4">0</text>
<text x="26.4" y="419.08">1</text>
<text x="26.4" y="390.76">2</text>
<text x="26.4" y="362.44">3</text>
<text x="26.4" y="334.12">4</text>
<text x="26.4" y="305.8">5</text>
<text x="26.4" y="277.48">6</text>
<text x="26.4" y="249.16">7</text>
<text x="26.4" y="220.84">8</text>
<text x="26.4" y="192.52">9</text>
<text x="26.4" y="164.2">10</text>
<text x="26.4" y="135.88">11</text>
<text x="26.4" y="107.56">12</text>
<text x="26.4" y="79.24">13</text>
<text x="26.4" y="50.92">14</text>
<text x="26.4" y="22.6">15</text>
</g>
<g class="lb">
<text x="216.3" y="51.099999999999994">800 kW/m</text>
<text x="162.8" y="96.1">500 kW/m</text>
<text x="104.2" y="170.5">200 kW/m</text>
<text x="77.2" y="232.5">100 kW/m</text>
<text x="68.2" y="286.40000000000003">50 kW/m</text>
<text x="59.5" y="330.7">25 kW/m</text>
<text x="40.5" y="367.7">5 kW/m</text>
</g>
<text class="bl" x="39.5" y="38.6" font-size="16">Hs (m)</text><text class="bl" x="379" y="36.6" font-size="19.5" textLength="88" lengthAdjust="spacingAndGlyphs">Total time</text>
<g shape-rendering="crispEdges">
<rect x="538.97" y="427.58" width="13.36" height="14.22" fill="#d9d9f2"/>
<rect x="619.1" y="427.58" width="146.91" height="14.22" fill="#d9d9f2"/>
<rect x="792.73" y="427.58" width="13.36" height="14.22" fill="#d9d9f2"/>
<rect x="819.44" y="427.58" width="13.36" height="14.22" fill="#d9d9f2"/>
<rect x="512.26" y="413.35" width="120.2" height="14.22" fill="#d9d9f2"/>
<rect x="632.46" y="413.35" width="26.71" height="14.22" fill="#8c8da8"/>
<rect x="659.17" y="413.35" width="26.71" height="14.22" fill="#66bfff"/>
<rect x="685.88" y="413.35" width="13.36" height="14.22" fill="#0066ff"/>
<rect x="699.24" y="413.35" width="40.07" height="14.22" fill="#66bfff"/>
<rect x="739.31" y="413.35" width="26.71" height="14.22" fill="#8c8da8"/>
<rect x="766.02" y="413.35" width="160.27" height="14.22" fill="#d9d9f2"/>
<rect x="512.26" y="399.13" width="13.36" height="14.22" fill="#d9d9f2"/>
<rect x="538.97" y="399.13" width="93.49" height="14.22" fill="#d9d9f2"/>
<rect x="632.46" y="399.13" width="13.36" height="14.22" fill="#8c8da8"/>
<rect x="645.81" y="399.13" width="13.36" height="14.22" fill="#66bfff"/>
<rect x="659.17" y="399.13" width="26.71" height="14.22" fill="#0000d9"/>
<rect x="685.88" y="399.13" width="26.71" height="14.22" fill="#ffcc00"/>
<rect x="712.59" y="399.13" width="26.71" height="14.22" fill="#00d933"/>
<rect x="739.31" y="399.13" width="26.71" height="14.22" fill="#0066ff"/>
<rect x="766.02" y="399.13" width="26.71" height="14.22" fill="#8c8da8"/>
<rect x="792.73" y="399.13" width="146.91" height="14.22" fill="#d9d9f2"/>
<rect x="538.97" y="384.91" width="93.49" height="14.22" fill="#d9d9f2"/>
<rect x="632.46" y="384.91" width="26.71" height="14.22" fill="#8c8da8"/>
<rect x="659.17" y="384.91" width="13.36" height="14.22" fill="#66bfff"/>
<rect x="672.53" y="384.91" width="13.36" height="14.22" fill="#0066ff"/>
<rect x="685.88" y="384.91" width="13.36" height="14.22" fill="#00ff00"/>
<rect x="699.24" y="384.91" width="13.36" height="14.22" fill="#ff9900"/>
<rect x="712.59" y="384.91" width="13.36" height="14.22" fill="#ffcc00"/>
<rect x="725.95" y="384.91" width="13.36" height="14.22" fill="#ff6600"/>
<rect x="739.31" y="384.91" width="26.71" height="14.22" fill="#00d933"/>
<rect x="766.02" y="384.91" width="13.36" height="14.22" fill="#0066ff"/>
<rect x="779.37" y="384.91" width="13.36" height="14.22" fill="#66bfff"/>
<rect x="792.73" y="384.91" width="26.71" height="14.22" fill="#8c8da8"/>
<rect x="819.44" y="384.91" width="120.2" height="14.22" fill="#d9d9f2"/>
<rect x="565.68" y="370.68" width="80.14" height="14.22" fill="#d9d9f2"/>
<rect x="645.81" y="370.68" width="40.07" height="14.22" fill="#8c8da8"/>
<rect x="685.88" y="370.68" width="13.36" height="14.22" fill="#0000d9"/>
<rect x="699.24" y="370.68" width="13.36" height="14.22" fill="#00d933"/>
<rect x="712.59" y="370.68" width="13.36" height="14.22" fill="#00ff00"/>
<rect x="725.95" y="370.68" width="13.36" height="14.22" fill="#ff9900"/>
<rect x="739.31" y="370.68" width="13.36" height="14.22" fill="#ffcc00"/>
<rect x="752.66" y="370.68" width="13.36" height="14.22" fill="#ffff00"/>
<rect x="766.02" y="370.68" width="13.36" height="14.22" fill="#00a666"/>
<rect x="779.37" y="370.68" width="13.36" height="14.22" fill="#0066ff"/>
<rect x="792.73" y="370.68" width="13.36" height="14.22" fill="#66bfff"/>
<rect x="806.09" y="370.68" width="13.36" height="14.22" fill="#8c8da8"/>
<rect x="819.44" y="370.68" width="120.2" height="14.22" fill="#d9d9f2"/>
<rect x="579.04" y="356.46" width="80.14" height="14.22" fill="#d9d9f2"/>
<rect x="659.17" y="356.46" width="26.71" height="14.22" fill="#8c8da8"/>
<rect x="685.88" y="356.46" width="13.36" height="14.22" fill="#66bfff"/>
<rect x="699.24" y="356.46" width="13.36" height="14.22" fill="#0000d9"/>
<rect x="712.59" y="356.46" width="13.36" height="14.22" fill="#0066ff"/>
<rect x="725.95" y="356.46" width="26.71" height="14.22" fill="#00d933"/>
<rect x="752.66" y="356.46" width="13.36" height="14.22" fill="#00ff00"/>
<rect x="766.02" y="356.46" width="13.36" height="14.22" fill="#00d933"/>
<rect x="779.37" y="356.46" width="13.36" height="14.22" fill="#0000d9"/>
<rect x="792.73" y="356.46" width="13.36" height="14.22" fill="#0066ff"/>
<rect x="806.09" y="356.46" width="26.71" height="14.22" fill="#8c8da8"/>
<rect x="832.8" y="356.46" width="106.85" height="14.22" fill="#d9d9f2"/>
<rect x="592.39" y="342.24" width="93.49" height="14.22" fill="#d9d9f2"/>
<rect x="685.88" y="342.24" width="13.36" height="14.22" fill="#8c8da8"/>
<rect x="699.24" y="342.24" width="26.71" height="14.22" fill="#66bfff"/>
<rect x="725.95" y="342.24" width="26.71" height="14.22" fill="#0066ff"/>
<rect x="752.66" y="342.24" width="13.36" height="14.22" fill="#0000d9"/>
<rect x="766.02" y="342.24" width="13.36" height="14.22" fill="#00a666"/>
<rect x="779.37" y="342.24" width="26.71" height="14.22" fill="#0000d9"/>
<rect x="806.09" y="342.24" width="13.36" height="14.22" fill="#66bfff"/>
<rect x="819.44" y="342.24" width="13.36" height="14.22" fill="#8c8da8"/>
<rect x="832.8" y="342.24" width="106.85" height="14.22" fill="#d9d9f2"/>
<rect x="605.75" y="328.01" width="93.49" height="14.22" fill="#d9d9f2"/>
<rect x="699.24" y="328.01" width="40.07" height="14.22" fill="#8c8da8"/>
<rect x="739.31" y="328.01" width="26.71" height="14.22" fill="#66bfff"/>
<rect x="766.02" y="328.01" width="13.36" height="14.22" fill="#0066ff"/>
<rect x="779.37" y="328.01" width="13.36" height="14.22" fill="#66bfff"/>
<rect x="792.73" y="328.01" width="13.36" height="14.22" fill="#0066ff"/>
<rect x="806.09" y="328.01" width="26.71" height="14.22" fill="#8c8da8"/>
<rect x="832.8" y="328.01" width="106.85" height="14.22" fill="#d9d9f2"/>
<rect x="605.75" y="313.79" width="133.56" height="14.22" fill="#d9d9f2"/>
<rect x="739.31" y="313.79" width="26.71" height="14.22" fill="#8c8da8"/>
<rect x="766.02" y="313.79" width="13.36" height="14.22" fill="#66bfff"/>
<rect x="779.37" y="313.79" width="13.36" height="14.22" fill="#8c8da8"/>
<rect x="792.73" y="313.79" width="26.71" height="14.22" fill="#66bfff"/>
<rect x="819.44" y="313.79" width="26.71" height="14.22" fill="#8c8da8"/>
<rect x="846.15" y="313.79" width="93.49" height="14.22" fill="#d9d9f2"/>
<rect x="645.81" y="299.57" width="120.2" height="14.22" fill="#d9d9f2"/>
<rect x="766.02" y="299.57" width="80.14" height="14.22" fill="#8c8da8"/>
<rect x="846.15" y="299.57" width="93.49" height="14.22" fill="#d9d9f2"/>
<rect x="645.81" y="285.34" width="13.36" height="14.22" fill="#d9d9f2"/>
<rect x="672.53" y="285.34" width="160.27" height="14.22" fill="#d9d9f2"/>
<rect x="832.8" y="285.34" width="13.36" height="14.22" fill="#8c8da8"/>
<rect x="846.15" y="285.34" width="80.14" height="14.22" fill="#d9d9f2"/>
<rect x="672.53" y="271.12" width="240.41" height="14.22" fill="#d9d9f2"/>
<rect x="926.29" y="271.12" width="13.36" height="14.22" fill="#d9d9f2"/>
<rect x="685.88" y="256.9" width="253.76" height="14.22" fill="#d9d9f2"/>
<rect x="685.88" y="242.67" width="227.05" height="14.22" fill="#d9d9f2"/>
<rect x="699.24" y="228.45" width="213.69" height="14.22" fill="#d9d9f2"/>
<rect x="739.31" y="214.23" width="160.27" height="14.22" fill="#d9d9f2"/>
<rect x="712.59" y="200" width="13.36" height="14.22" fill="#d9d9f2"/>
<rect x="766.02" y="200" width="133.56" height="14.22" fill="#d9d9f2"/>
<rect x="725.95" y="185.78" width="13.36" height="14.22" fill="#d9d9f2"/>
<rect x="792.73" y="185.78" width="106.85" height="14.22" fill="#d9d9f2"/>
<rect x="779.37" y="171.56" width="120.2" height="14.22" fill="#d9d9f2"/>
<rect x="846.15" y="157.33" width="53.42" height="14.22" fill="#d9d9f2"/>
<rect x="846.15" y="143.11" width="13.36" height="14.22" fill="#d9d9f2"/>
<rect x="872.86" y="143.11" width="13.36" height="14.22" fill="#d9d9f2"/>
<rect x="872.86" y="128.89" width="26.71" height="14.22" fill="#d9d9f2"/>
<rect x="872.86" y="114.66" width="26.71" height="14.22" fill="#d9d9f2"/>
<rect x="872.86" y="100.44" width="13.36" height="14.22" fill="#d9d9f2"/>
<rect x="886.22" y="86.22" width="13.36" height="14.22" fill="#d9d9f2"/>
<rect x="886.22" y="71.99" width="13.36" height="14.22" fill="#d9d9f2"/>
</g>
<path d="M525.61 15.1V441.8M552.32 15.1V441.8M579.04 15.1V441.8M605.75 15.1V441.8M632.46 15.1V441.8M659.17 15.1V441.8M685.88 15.1V441.8M712.59 15.1V441.8M739.31 15.1V441.8M766.02 15.1V441.8M792.73 15.1V441.8M819.44 15.1V441.8M846.15 15.1V441.8M872.86 15.1V441.8M899.58 15.1V441.8M926.29 15.1V441.8M498.9 413.35H953M498.9 384.91H953M498.9 356.46H953M498.9 328.01H953M498.9 299.57H953M498.9 271.12H953M498.9 242.67H953M498.9 214.23H953M498.9 185.78H953M498.9 157.33H953M498.9 128.89H953M498.9 100.44H953M498.9 71.99H953M498.9 43.55H953" stroke="#2e2e2e" stroke-width="1.0" stroke-dasharray="1.25 3.85" fill="none"/>
<path d="M498.9 377.55 L501.57 379.09 L504.24 380.54 L506.91 381.88 L509.58 383.14 L512.26 384.33 L514.93 385.45 L517.6 386.5 L520.27 387.5 L522.94 388.44 L525.61 389.34 L528.28 390.19 L530.95 391 L533.63 391.78 L536.3 392.52 L538.97 393.23 L541.64 393.91 L544.31 394.56 L546.98 395.18 L549.65 395.79 L552.32 396.37 L554.99 396.92 L557.67 397.46 L560.34 397.98 L563.01 398.48 L565.68 398.96 L568.35 399.43 L571.02 399.89 L573.69 400.32 L576.36 400.75 L579.04 401.16 L581.71 401.56 L584.38 401.95 L587.05 402.33 L589.72 402.7 L592.39 403.05 L595.06 403.4 L597.73 403.74 L600.4 404.07 L603.08 404.39 L605.75 404.7 L608.42 405.01 L611.09 405.31 L613.76 405.6 L616.43 405.88 L619.1 406.16 L621.77 406.43 L624.45 406.69 L627.12 406.95 L629.79 407.21 L632.46 407.45 L635.13 407.7 L637.8 407.93 L640.47 408.17 L643.14 408.4 L645.81 408.62 L648.49 408.84 L651.16 409.05 L653.83 409.26 L656.5 409.47 L659.17 409.67 L661.84 409.87 L664.51 410.07 L667.18 410.26 L669.86 410.45 L672.53 410.63 L675.2 410.81 L677.87 410.99 L680.54 411.17 L683.21 411.34 L685.88 411.51 L688.55 411.68 L691.22 411.84 L693.9 412 L696.57 412.16 L699.24 412.32 L701.91 412.47 L704.58 412.62 L707.25 412.77 L709.92 412.92 L712.59 413.06 L715.27 413.21 L717.94 413.35 L720.61 413.49 L723.28 413.62 L725.95 413.76 L728.62 413.89 L731.29 414.02 L733.96 414.15 L736.63 414.28 L739.31 414.4 L741.98 414.53 L744.65 414.65 L747.32 414.77 L749.99 414.89 L752.66 415 L755.33 415.12 L758 415.23 L760.68 415.35 L763.35 415.46 L766.02 415.57 L768.69 415.68 L771.36 415.78 L774.03 415.89 L776.7 415.99 L779.37 416.1 L782.04 416.2 L784.72 416.3 L787.39 416.4 L790.06 416.5 L792.73 416.6 L795.4 416.69 L798.07 416.79 L800.74 416.88 L803.41 416.98 L806.09 417.07 L808.76 417.16 L811.43 417.25 L814.1 417.34 L816.77 417.43 L819.44 417.51 L822.11 417.6 L824.78 417.69 L827.45 417.77 L830.13 417.85 L832.8 417.94 L835.47 418.02 L838.14 418.1 L840.81 418.18 L843.48 418.26 L846.15 418.34 L848.82 418.42 L851.5 418.49 L854.17 418.57 L856.84 418.64 L859.51 418.72 L862.18 418.79 L864.85 418.87 L867.52 418.94 L870.19 419.01 L872.86 419.08 L875.54 419.15 L878.21 419.22 L880.88 419.29 L883.55 419.36 L886.22 419.43 L888.89 419.5 L891.56 419.56 L894.23 419.63 L896.91 419.7 L899.58 419.76 L902.25 419.83 L904.92 419.89 L907.59 419.95 L910.26 420.02 L912.93 420.08 L915.6 420.14 L918.27 420.2 L920.95 420.26 L923.62 420.32 L926.29 420.38 L928.96 420.44 L931.63 420.5 L934.3 420.56 L936.97 420.62 L939.64 420.67 L942.32 420.73 L944.99 420.79 L947.66 420.84 L950.33 420.9" stroke="#ff00ff" stroke-width="1.7" stroke-dasharray="10.2 3.9" fill="none"/>
<path d="M498.9 298.12 L501.57 301.59 L504.24 304.81 L506.91 307.82 L509.58 310.64 L512.26 313.29 L514.93 315.79 L517.6 318.14 L520.27 320.37 L522.94 322.48 L525.61 324.49 L528.28 326.4 L530.95 328.21 L533.63 329.95 L536.3 331.6 L538.97 333.19 L541.64 334.71 L544.31 336.17 L546.98 337.57 L549.65 338.91 L552.32 340.2 L554.99 341.45 L557.67 342.65 L560.34 343.81 L563.01 344.93 L565.68 346.02 L568.35 347.06 L571.02 348.08 L573.69 349.06 L576.36 350.01 L579.04 350.93 L581.71 351.83 L584.38 352.7 L587.05 353.54 L589.72 354.36 L592.39 355.16 L595.06 355.94 L597.73 356.69 L600.4 357.43 L603.08 358.15 L605.75 358.85 L608.42 359.53 L611.09 360.2 L613.76 360.85 L616.43 361.48 L619.1 362.1 L621.77 362.71 L624.45 363.3 L627.12 363.88 L629.79 364.45 L632.46 365 L635.13 365.54 L637.8 366.08 L640.47 366.6 L643.14 367.11 L645.81 367.61 L648.49 368.1 L651.16 368.58 L653.83 369.05 L656.5 369.51 L659.17 369.96 L661.84 370.41 L664.51 370.84 L667.18 371.27 L669.86 371.69 L672.53 372.11 L675.2 372.51 L677.87 372.91 L680.54 373.3 L683.21 373.69 L685.88 374.07 L688.55 374.44 L691.22 374.81 L693.9 375.17 L696.57 375.53 L699.24 375.88 L701.91 376.22 L704.58 376.56 L707.25 376.89 L709.92 377.22 L712.59 377.55 L715.27 377.86 L717.94 378.18 L720.61 378.49 L723.28 378.79 L725.95 379.09 L728.62 379.39 L731.29 379.68 L733.96 379.97 L736.63 380.26 L739.31 380.54 L741.98 380.81 L744.65 381.09 L747.32 381.35 L749.99 381.62 L752.66 381.88 L755.33 382.14 L758 382.4 L760.68 382.65 L763.35 382.9 L766.02 383.14 L768.69 383.39 L771.36 383.63 L774.03 383.86 L776.7 384.1 L779.37 384.33 L782.04 384.56 L784.72 384.78 L787.39 385.01 L790.06 385.23 L792.73 385.45 L795.4 385.66 L798.07 385.87 L800.74 386.08 L803.41 386.29 L806.09 386.5 L808.76 386.7 L811.43 386.9 L814.1 387.1 L816.77 387.3 L819.44 387.5 L822.11 387.69 L824.78 387.88 L827.45 388.07 L830.13 388.25 L832.8 388.44 L835.47 388.62 L838.14 388.8 L840.81 388.98 L843.48 389.16 L846.15 389.34 L848.82 389.51 L851.5 389.68 L854.17 389.85 L856.84 390.02 L859.51 390.19 L862.18 390.36 L864.85 390.52 L867.52 390.68 L870.19 390.84 L872.86 391 L875.54 391.16 L878.21 391.32 L880.88 391.47 L883.55 391.63 L886.22 391.78 L888.89 391.93 L891.56 392.08 L894.23 392.23 L896.91 392.37 L899.58 392.52 L902.25 392.66 L904.92 392.81 L907.59 392.95 L910.26 393.09 L912.93 393.23 L915.6 393.37 L918.27 393.5 L920.95 393.64 L923.62 393.77 L926.29 393.91 L928.96 394.04 L931.63 394.17 L934.3 394.3 L936.97 394.43 L939.64 394.56 L942.32 394.69 L944.99 394.81 L947.66 394.94 L950.33 395.06" stroke="#ff00ff" stroke-width="1.7" stroke-dasharray="10.2 3.9" fill="none"/>
<path d="M498.9 238.61 L501.57 243.51 L504.24 248.07 L506.91 252.32 L509.58 256.31 L512.26 260.06 L514.93 263.59 L517.6 266.92 L520.27 270.07 L522.94 273.06 L525.61 275.9 L528.28 278.59 L530.95 281.16 L533.63 283.62 L536.3 285.96 L538.97 288.2 L541.64 290.35 L544.31 292.41 L546.98 294.39 L549.65 296.29 L552.32 298.12 L554.99 299.89 L557.67 301.59 L560.34 303.23 L563.01 304.81 L565.68 306.34 L568.35 307.82 L571.02 309.25 L573.69 310.64 L576.36 311.99 L579.04 313.29 L581.71 314.56 L584.38 315.79 L587.05 316.98 L589.72 318.14 L592.39 319.27 L595.06 320.37 L597.73 321.44 L600.4 322.48 L603.08 323.5 L605.75 324.49 L608.42 325.45 L611.09 326.4 L613.76 327.32 L616.43 328.21 L619.1 329.09 L621.77 329.95 L624.45 330.79 L627.12 331.6 L629.79 332.41 L632.46 333.19 L635.13 333.96 L637.8 334.71 L640.47 335.45 L643.14 336.17 L645.81 336.87 L648.49 337.57 L651.16 338.24 L653.83 338.91 L656.5 339.56 L659.17 340.2 L661.84 340.83 L664.51 341.45 L667.18 342.06 L669.86 342.65 L672.53 343.24 L675.2 343.81 L677.87 344.38 L680.54 344.93 L683.21 345.48 L685.88 346.02 L688.55 346.54 L691.22 347.06 L693.9 347.57 L696.57 348.08 L699.24 348.57 L701.91 349.06 L704.58 349.54 L707.25 350.01 L709.92 350.47 L712.59 350.93 L715.27 351.38 L717.94 351.83 L720.61 352.26 L723.28 352.7 L725.95 353.12 L728.62 353.54 L731.29 353.95 L733.96 354.36 L736.63 354.76 L739.31 355.16 L741.98 355.55 L744.65 355.94 L747.32 356.32 L749.99 356.69 L752.66 357.06 L755.33 357.43 L758 357.79 L760.68 358.15 L763.35 358.5 L766.02 358.85 L768.69 359.19 L771.36 359.53 L774.03 359.87 L776.7 360.2 L779.37 360.52 L782.04 360.85 L784.72 361.17 L787.39 361.48 L790.06 361.79 L792.73 362.1 L795.4 362.41 L798.07 362.71 L800.74 363.01 L803.41 363.3 L806.09 363.59 L808.76 363.88 L811.43 364.16 L814.1 364.45 L816.77 364.73 L819.44 365 L822.11 365.27 L824.78 365.54 L827.45 365.81 L830.13 366.08 L832.8 366.34 L835.47 366.6 L838.14 366.85 L840.81 367.11 L843.48 367.36 L846.15 367.61 L848.82 367.85 L851.5 368.1 L854.17 368.34 L856.84 368.58 L859.51 368.81 L862.18 369.05 L864.85 369.28 L867.52 369.51 L870.19 369.74 L872.86 369.96 L875.54 370.18 L878.21 370.41 L880.88 370.63 L883.55 370.84 L886.22 371.06 L888.89 371.27 L891.56 371.48 L894.23 371.69 L896.91 371.9 L899.58 372.11 L902.25 372.31 L904.92 372.51 L907.59 372.71 L910.26 372.91 L912.93 373.11 L915.6 373.3 L918.27 373.5 L920.95 373.69 L923.62 373.88 L926.29 374.07 L928.96 374.26 L931.63 374.44 L934.3 374.63 L936.97 374.81 L939.64 374.99 L942.32 375.17 L944.99 375.35 L947.66 375.53 L950.33 375.7" stroke="#ff00ff" stroke-width="1.7" stroke-dasharray="10.2 3.9" fill="none"/>
<path d="M498.9 154.45 L501.57 161.37 L504.24 167.82 L506.91 173.84 L509.58 179.48 L512.26 184.78 L514.93 189.77 L517.6 194.48 L520.27 198.94 L522.94 203.16 L525.61 207.18 L528.28 210.99 L530.95 214.63 L533.63 218.09 L536.3 221.41 L538.97 224.58 L541.64 227.62 L544.31 230.53 L546.98 233.33 L549.65 236.02 L552.32 238.61 L554.99 241.1 L557.67 243.51 L560.34 245.83 L563.01 248.07 L565.68 250.23 L568.35 252.32 L571.02 254.35 L573.69 256.31 L576.36 258.22 L579.04 260.06 L581.71 261.85 L584.38 263.59 L587.05 265.28 L589.72 266.92 L592.39 268.52 L595.06 270.07 L597.73 271.59 L600.4 273.06 L603.08 274.5 L605.75 275.9 L608.42 277.26 L611.09 278.59 L613.76 279.89 L616.43 281.16 L619.1 282.4 L621.77 283.62 L624.45 284.8 L627.12 285.96 L629.79 287.09 L632.46 288.2 L635.13 289.29 L637.8 290.35 L640.47 291.39 L643.14 292.41 L645.81 293.41 L648.49 294.39 L651.16 295.35 L653.83 296.29 L656.5 297.22 L659.17 298.12 L661.84 299.01 L664.51 299.89 L667.18 300.74 L669.86 301.59 L672.53 302.41 L675.2 303.23 L677.87 304.02 L680.54 304.81 L683.21 305.58 L685.88 306.34 L688.55 307.09 L691.22 307.82 L693.9 308.54 L696.57 309.25 L699.24 309.95 L701.91 310.64 L704.58 311.32 L707.25 311.99 L709.92 312.64 L712.59 313.29 L715.27 313.93 L717.94 314.56 L720.61 315.18 L723.28 315.79 L725.95 316.39 L728.62 316.98 L731.29 317.57 L733.96 318.14 L736.63 318.71 L739.31 319.27 L741.98 319.82 L744.65 320.37 L747.32 320.91 L749.99 321.44 L752.66 321.96 L755.33 322.48 L758 322.99 L760.68 323.5 L763.35 324 L766.02 324.49 L768.69 324.97 L771.36 325.45 L774.03 325.93 L776.7 326.4 L779.37 326.86 L782.04 327.32 L784.72 327.77 L787.39 328.21 L790.06 328.65 L792.73 329.09 L795.4 329.52 L798.07 329.95 L800.74 330.37 L803.41 330.79 L806.09 331.2 L808.76 331.6 L811.43 332.01 L814.1 332.41 L816.77 332.8 L819.44 333.19 L822.11 333.58 L824.78 333.96 L827.45 334.34 L830.13 334.71 L832.8 335.08 L835.47 335.45 L838.14 335.81 L840.81 336.17 L843.48 336.52 L846.15 336.87 L848.82 337.22 L851.5 337.57 L854.17 337.91 L856.84 338.24 L859.51 338.58 L862.18 338.91 L864.85 339.24 L867.52 339.56 L870.19 339.89 L872.86 340.2 L875.54 340.52 L878.21 340.83 L880.88 341.14 L883.55 341.45 L886.22 341.76 L888.89 342.06 L891.56 342.36 L894.23 342.65 L896.91 342.95 L899.58 343.24 L902.25 343.53 L904.92 343.81 L907.59 344.1 L910.26 344.38 L912.93 344.66 L915.6 344.93 L918.27 345.21 L920.95 345.48 L923.62 345.75 L926.29 346.02 L928.96 346.28 L931.63 346.54 L934.3 346.8 L936.97 347.06 L939.64 347.32 L942.32 347.57 L944.99 347.82 L947.66 348.08 L950.33 348.32" stroke="#ff00ff" stroke-width="1.7" stroke-dasharray="10.2 3.9" fill="none"/>
<path d="M498.9 35.42 L501.57 45.21 L504.24 54.33 L506.91 62.85 L509.58 70.83 L512.26 78.32 L514.93 85.38 L517.6 92.04 L520.27 98.35 L522.94 104.32 L525.61 109.99 L528.28 115.39 L530.95 120.53 L533.63 125.43 L536.3 130.12 L538.97 134.6 L541.64 138.9 L544.31 143.02 L546.98 146.98 L549.65 150.78 L552.32 154.45 L554.99 157.97 L557.67 161.37 L560.34 164.65 L563.01 167.82 L565.68 170.88 L568.35 173.84 L571.02 176.71 L573.69 179.48 L576.36 182.17 L579.04 184.78 L581.71 187.31 L584.38 189.77 L587.05 192.16 L589.72 194.48 L592.39 196.74 L595.06 198.94 L597.73 201.08 L600.4 203.16 L603.08 205.2 L605.75 207.18 L608.42 209.11 L611.09 210.99 L613.76 212.83 L616.43 214.63 L619.1 216.38 L621.77 218.09 L624.45 219.77 L627.12 221.41 L629.79 223.01 L632.46 224.58 L635.13 226.12 L637.8 227.62 L640.47 229.09 L643.14 230.53 L645.81 231.95 L648.49 233.33 L651.16 234.69 L653.83 236.02 L656.5 237.33 L659.17 238.61 L661.84 239.87 L664.51 241.1 L667.18 242.32 L669.86 243.51 L672.53 244.68 L675.2 245.83 L677.87 246.96 L680.54 248.07 L683.21 249.16 L685.88 250.23 L688.55 251.29 L691.22 252.32 L693.9 253.35 L696.57 254.35 L699.24 255.34 L701.91 256.31 L704.58 257.27 L707.25 258.22 L709.92 259.15 L712.59 260.06 L715.27 260.96 L717.94 261.85 L720.61 262.73 L723.28 263.59 L725.95 264.44 L728.62 265.28 L731.29 266.11 L733.96 266.92 L736.63 267.73 L739.31 268.52 L741.98 269.3 L744.65 270.07 L747.32 270.83 L749.99 271.59 L752.66 272.33 L755.33 273.06 L758 273.78 L760.68 274.5 L763.35 275.2 L766.02 275.9 L768.69 276.58 L771.36 277.26 L774.03 277.93 L776.7 278.59 L779.37 279.25 L782.04 279.89 L784.72 280.53 L787.39 281.16 L790.06 281.79 L792.73 282.4 L795.4 283.01 L798.07 283.62 L800.74 284.21 L803.41 284.8 L806.09 285.38 L808.76 285.96 L811.43 286.53 L814.1 287.09 L816.77 287.65 L819.44 288.2 L822.11 288.75 L824.78 289.29 L827.45 289.82 L830.13 290.35 L832.8 290.87 L835.47 291.39 L838.14 291.9 L840.81 292.41 L843.48 292.91 L846.15 293.41 L848.82 293.9 L851.5 294.39 L854.17 294.87 L856.84 295.35 L859.51 295.82 L862.18 296.29 L864.85 296.76 L867.52 297.22 L870.19 297.67 L872.86 298.12 L875.54 298.57 L878.21 299.01 L880.88 299.45 L883.55 299.89 L886.22 300.32 L888.89 300.74 L891.56 301.17 L894.23 301.59 L896.91 302 L899.58 302.41 L902.25 302.82 L904.92 303.23 L907.59 303.63 L910.26 304.02 L912.93 304.42 L915.6 304.81 L918.27 305.2 L920.95 305.58 L923.62 305.96 L926.29 306.34 L928.96 306.71 L931.63 307.09 L934.3 307.45 L936.97 307.82 L939.64 308.18 L942.32 308.54 L944.99 308.9 L947.66 309.25 L950.33 309.6" stroke="#ff00ff" stroke-width="1.7" stroke-dasharray="10.2 3.9" fill="none"/>
<path d="M566.62 15.1 L568.35 18.12 L571.02 22.65 L573.69 27.04 L576.36 31.29 L579.04 35.42 L581.71 39.42 L584.38 43.31 L587.05 47.09 L589.72 50.76 L592.39 54.33 L595.06 57.81 L597.73 61.19 L600.4 64.48 L603.08 67.7 L605.75 70.83 L608.42 73.88 L611.09 76.86 L613.76 79.77 L616.43 82.61 L619.1 85.38 L621.77 88.09 L624.45 90.74 L627.12 93.33 L629.79 95.87 L632.46 98.35 L635.13 100.77 L637.8 103.15 L640.47 105.48 L643.14 107.76 L645.81 109.99 L648.49 112.18 L651.16 114.33 L653.83 116.43 L656.5 118.5 L659.17 120.53 L661.84 122.52 L664.51 124.47 L667.18 126.39 L669.86 128.27 L672.53 130.12 L675.2 131.94 L677.87 133.72 L680.54 135.48 L683.21 137.2 L685.88 138.9 L688.55 140.57 L691.22 142.21 L693.9 143.83 L696.57 145.42 L699.24 146.98 L701.91 148.52 L704.58 150.04 L707.25 151.53 L709.92 153 L712.59 154.45 L715.27 155.87 L717.94 157.28 L720.61 158.66 L723.28 160.03 L725.95 161.37 L728.62 162.7 L731.29 164 L733.96 165.29 L736.63 166.56 L739.31 167.82 L741.98 169.05 L744.65 170.28 L747.32 171.48 L749.99 172.67 L752.66 173.84 L755.33 175 L758 176.14 L760.68 177.27 L763.35 178.38 L766.02 179.48 L768.69 180.57 L771.36 181.64 L774.03 182.7 L776.7 183.75 L779.37 184.78 L782.04 185.8 L784.72 186.81 L787.39 187.81 L790.06 188.8 L792.73 189.77 L795.4 190.74 L798.07 191.69 L800.74 192.63 L803.41 193.56 L806.09 194.48 L808.76 195.4 L811.43 196.3 L814.1 197.19 L816.77 198.07 L819.44 198.94 L822.11 199.8 L824.78 200.66 L827.45 201.5 L830.13 202.34 L832.8 203.16 L835.47 203.98 L838.14 204.79 L840.81 205.6 L843.48 206.39 L846.15 207.18 L848.82 207.95 L851.5 208.72 L854.17 209.49 L856.84 210.24 L859.51 210.99 L862.18 211.73 L864.85 212.47 L867.52 213.19 L870.19 213.91 L872.86 214.63 L875.54 215.33 L878.21 216.03 L880.88 216.73 L883.55 217.41 L886.22 218.09 L888.89 218.77 L891.56 219.44 L894.23 220.1 L896.91 220.76 L899.58 221.41 L902.25 222.05 L904.92 222.69 L907.59 223.33 L910.26 223.96 L912.93 224.58 L915.6 225.2 L918.27 225.81 L920.95 226.42 L923.62 227.02 L926.29 227.62 L928.96 228.21 L931.63 228.8 L934.3 229.38 L936.97 229.96 L939.64 230.53 L942.32 231.1 L944.99 231.67 L947.66 232.23 L950.33 232.78" stroke="#ff00ff" stroke-width="1.7" stroke-dasharray="10.2 3.9" fill="none"/>
<path d="M639.3 15.1 L640.47 16.38 L643.14 19.27 L645.81 22.09 L648.49 24.86 L651.16 27.58 L653.83 30.24 L656.5 32.86 L659.17 35.42 L661.84 37.94 L664.51 40.41 L667.18 42.83 L669.86 45.21 L672.53 47.55 L675.2 49.85 L677.87 52.11 L680.54 54.33 L683.21 56.51 L685.88 58.66 L688.55 60.77 L691.22 62.85 L693.9 64.89 L696.57 66.9 L699.24 68.88 L701.91 70.83 L704.58 72.74 L707.25 74.63 L709.92 76.49 L712.59 78.32 L715.27 80.13 L717.94 81.9 L720.61 83.65 L723.28 85.38 L725.95 87.08 L728.62 88.76 L731.29 90.41 L733.96 92.04 L736.63 93.65 L739.31 95.24 L741.98 96.8 L744.65 98.35 L747.32 99.87 L749.99 101.37 L752.66 102.85 L755.33 104.32 L758 105.76 L760.68 107.19 L763.35 108.6 L766.02 109.99 L768.69 111.37 L771.36 112.72 L774.03 114.06 L776.7 115.39 L779.37 116.7 L782.04 117.99 L784.72 119.27 L787.39 120.53 L790.06 121.78 L792.73 123.01 L795.4 124.23 L798.07 125.43 L800.74 126.62 L803.41 127.8 L806.09 128.97 L808.76 130.12 L811.43 131.26 L814.1 132.39 L816.77 133.5 L819.44 134.6 L822.11 135.7 L824.78 136.78 L827.45 137.84 L830.13 138.9 L832.8 139.95 L835.47 140.98 L838.14 142.01 L840.81 143.02 L843.48 144.03 L846.15 145.02 L848.82 146.01 L851.5 146.98 L854.17 147.95 L856.84 148.9 L859.51 149.85 L862.18 150.78 L864.85 151.71 L867.52 152.63 L870.19 153.54 L872.86 154.45 L875.54 155.34 L878.21 156.22 L880.88 157.1 L883.55 157.97 L886.22 158.83 L888.89 159.69 L891.56 160.53 L894.23 161.37 L896.91 162.2 L899.58 163.02 L902.25 163.84 L904.92 164.65 L907.59 165.45 L910.26 166.25 L912.93 167.04 L915.6 167.82 L918.27 168.59 L920.95 169.36 L923.62 170.12 L926.29 170.88 L928.96 171.63 L931.63 172.37 L934.3 173.11 L936.97 173.84 L939.64 174.57 L942.32 175.28 L944.99 176 L947.66 176.71 L950.33 177.41" stroke="#ff00ff" stroke-width="1.7" stroke-dasharray="10.2 3.9" fill="none"/>
<ellipse cx="744.3" cy="371.8" rx="99" ry="49" transform="rotate(-27.9 744.3 371.8)" fill="none" stroke="#ff0000" stroke-width="6.6"/>
<path d="M525.61 441.8v-3.8M525.61 15.1v3.8M552.32 441.8v-3.8M552.32 15.1v3.8M579.04 441.8v-3.8M579.04 15.1v3.8M605.75 441.8v-3.8M605.75 15.1v3.8M632.46 441.8v-3.8M632.46 15.1v3.8M659.17 441.8v-3.8M659.17 15.1v3.8M685.88 441.8v-3.8M685.88 15.1v3.8M712.59 441.8v-3.8M712.59 15.1v3.8M739.31 441.8v-3.8M739.31 15.1v3.8M766.02 441.8v-3.8M766.02 15.1v3.8M792.73 441.8v-3.8M792.73 15.1v3.8M819.44 441.8v-3.8M819.44 15.1v3.8M846.15 441.8v-3.8M846.15 15.1v3.8M872.86 441.8v-3.8M872.86 15.1v3.8M899.58 441.8v-3.8M899.58 15.1v3.8M926.29 441.8v-3.8M926.29 15.1v3.8M498.9 413.35h3.8M953 413.35h-3.8M498.9 384.91h3.8M953 384.91h-3.8M498.9 356.46h3.8M953 356.46h-3.8M498.9 328.01h3.8M953 328.01h-3.8M498.9 299.57h3.8M953 299.57h-3.8M498.9 271.12h3.8M953 271.12h-3.8M498.9 242.67h3.8M953 242.67h-3.8M498.9 214.23h3.8M953 214.23h-3.8M498.9 185.78h3.8M953 185.78h-3.8M498.9 157.33h3.8M953 157.33h-3.8M498.9 128.89h3.8M953 128.89h-3.8M498.9 100.44h3.8M953 100.44h-3.8M498.9 71.99h3.8M953 71.99h-3.8M498.9 43.55h3.8M953 43.55h-3.8" stroke="#222" stroke-width="1.3" fill="none"/>
<rect x="498.9" y="15.1" width="454.1" height="426.7" fill="none" stroke="#2a2a2a" stroke-width="1.4"/>
<g class="tk" text-anchor="middle">
<text x="498.2" y="459">2</text>
<text x="524.91" y="459">3</text>
<text x="551.62" y="459">4</text>
<text x="578.34" y="459">5</text>
<text x="605.05" y="459">6</text>
<text x="631.76" y="459">7</text>
<text x="658.47" y="459">8</text>
<text x="685.18" y="459">9</text>
<text x="711.89" y="459">10</text>
<text x="738.61" y="459">11</text>
<text x="765.32" y="459">12</text>
<text x="792.03" y="459">13</text>
<text x="818.74" y="459">14</text>
<text x="845.45" y="459">15</text>
<text x="872.16" y="459">16</text>
<text x="898.88" y="459">17</text>
<text x="925.59" y="459">18</text>
<text x="952.3" y="459">19</text>
</g>
<g class="lb">
<text x="684.5" y="48.6">800 kW/m</text>
<text x="627" y="88.0">500 kW/m</text>
<text x="569.8" y="164.79999999999998">200 kW/m</text>
<text x="542.6" y="228.79999999999998">100 kW/m</text>
<text x="529.8" y="278.9">50 kW/m</text>
<text x="521.8" y="323.9">25 kW/m</text>
<text x="504.5" y="370.2">5 kW/m</text>
</g>
<text class="bl" x="832.5" y="36.5" font-size="19.5" textLength="102.5" lengthAdjust="spacingAndGlyphs">Winter time</text><text class="bl" x="906.5" y="438" font-size="16">Te (s)</text>
<g shape-rendering="crispEdges">
<rect x="969" y="43.5" width="26.4" height="24.25" fill="#800000"/>
<rect x="969" y="67.75" width="26.4" height="24.25" fill="#a60000"/>
<rect x="969" y="91.99" width="26.4" height="24.25" fill="#cc0000"/>
<rect x="969" y="116.24" width="26.4" height="24.25" fill="#ff0000"/>
<rect x="969" y="140.49" width="26.4" height="24.25" fill="#ff6600"/>
<rect x="969" y="164.74" width="26.4" height="24.25" fill="#ff9900"/>
<rect x="969" y="188.98" width="26.4" height="24.25" fill="#ffcc00"/>
<rect x="969" y="213.23" width="26.4" height="24.25" fill="#ffff00"/>
<rect x="969" y="237.48" width="26.4" height="24.25" fill="#00ff00"/>
<rect x="969" y="261.72" width="26.4" height="24.25" fill="#00d933"/>
<rect x="969" y="285.97" width="26.4" height="24.25" fill="#00a666"/>
<rect x="969" y="310.22" width="26.4" height="24.25" fill="#0000d9"/>
<rect x="969" y="334.46" width="26.4" height="24.25" fill="#0066ff"/>
<rect x="969" y="358.71" width="26.4" height="24.25" fill="#66bfff"/>
<rect x="969" y="382.96" width="26.4" height="24.25" fill="#8c8da8"/>
<rect x="969" y="407.21" width="26.4" height="24.25" fill="#d9d9f2"/>
</g>
<path d="M969 91.99h3.5M995.4 91.99h-3.5M969 140.49h3.5M995.4 140.49h-3.5M969 188.98h3.5M995.4 188.98h-3.5M969 237.48h3.5M995.4 237.48h-3.5M969 285.97h3.5M995.4 285.97h-3.5M969 334.46h3.5M995.4 334.46h-3.5M969 382.96h3.5M995.4 382.96h-3.5M969 431.45h3.5M995.4 431.45h-3.5" stroke="#222" stroke-width="1.2" fill="none"/>
<rect x="969" y="43.5" width="26.4" height="412.2" fill="none" stroke="#2a2a2a" stroke-width="1.4"/>
<g class="tk cbl"><text x="997" y="48.5">4</text><text x="997" y="96.99">3.5</text><text x="997" y="145.49">3</text><text x="997" y="193.98">2.5</text><text x="997" y="242.48">2</text><text x="997" y="290.97">1.5</text><text x="997" y="339.46">1</text><text x="997" y="387.96">0.5</text><text x="997" y="436.45">0</text></g>
<g class="ttl" text-anchor="middle"><text x="990" y="14.9">% of total</text><text x="990" y="31.6">power</text></g>
</svg>
</body></html>
